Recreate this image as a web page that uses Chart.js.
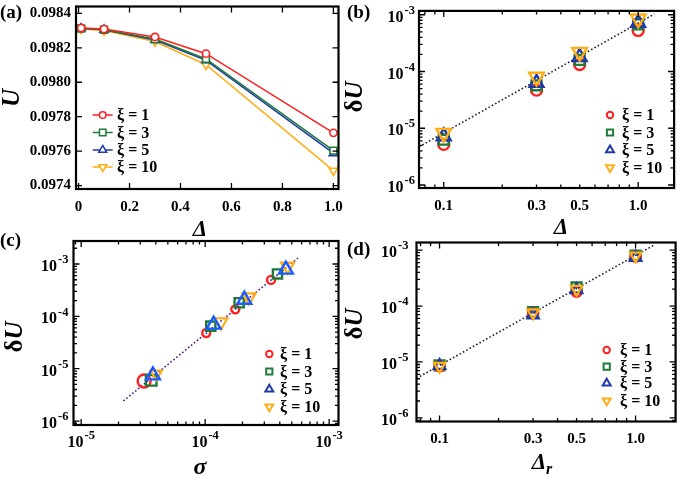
<!DOCTYPE html>
<html lang="en">
  <head>
    <meta charset="UTF-8" />
    <title>U vs Delta</title>
    <script src="https://cdn.jsdelivr.net/npm/chart.js@4.4.1/dist/chart.umd.min.js"></script>
    <style>
      body { margin: 0; background: #fff; }
      #wrap { position: relative; width: 685px; height: 477px; background: #fff; }
      #wrap canvas { position: absolute; left: 0; top: 0; }
    </style>
  </head>
  <body>
    <div id="wrap">
      <canvas id="chart-a" width="685" height="477"></canvas>
      <canvas id="chart-b" width="685" height="477"></canvas>
      <canvas id="chart-c" width="685" height="477"></canvas>
      <canvas id="chart-d" width="685" height="477"></canvas>
    </div>

    <script>
      // ---- data ----
      const xiLabels = ['ξ = 1', 'ξ = 3', 'ξ = 5', 'ξ = 10'];

      // (a) U vs Δ
      const deltaA = [0.01, 0.1, 0.3, 0.5, 1.0];
      const uXi1 = [0.098315, 0.098309, 0.098263, 0.098166, 0.097706];
      const uXi3 = [0.098312, 0.098305, 0.098251, 0.098135, 0.097603];
      const uXi5 = [0.098313, 0.098305, 0.098245, 0.098127, 0.097588];
      const uXi10 = [0.098310, 0.098300, 0.098237, 0.098102, 0.097487];
      const aXTicks = [0, 0.2, 0.4, 0.6, 0.8, 1.0];
      const aXTickLabels = ['0', '0.2', '0.4', '0.6', '0.8', '1.0'];
      const aYTicks = [0.0974, 0.0976, 0.0978, 0.0980, 0.0982, 0.0984];
      const aYTickLabels = ['0.0974', '0.0976', '0.0978', '0.0980', '0.0982', '0.0984'];

      // (b) δU vs Δ
      const deltaB = [0.1, 0.3, 0.5, 1.0];
      const dUbXi1 = [5.2e-6, 4.7e-5, 1.33e-4, 5.3e-4];
      const dUbXi3 = [6.3e-6, 5.7e-5, 1.6e-4, 6.8e-4];
      const dUbXi5 = [7.2e-6, 6.3e-5, 1.8e-4, 7.2e-4];
      const dUbXi10 = [8.2e-6, 8.0e-5, 2.2e-4, 8.5e-4];
      const fitBX = [0.0746, 1.21];
      const fitBY = [4.7e-6, 1.03e-3];

      // (c) δU vs σ
      const sigmaXi1 = [3.22e-5, 1.02e-4, 1.75e-4, 3.4e-4];
      const sigmaXi3 = [3.67e-5, 1.11e-4, 1.88e-4, 3.83e-4];
      const sigmaXi5 = [3.79e-5, 1.17e-4, 2.07e-4, 4.48e-4];
      const sigmaXi10 = [4.03e-5, 1.34e-4, 2.26e-4, 4.62e-4];
      const dUcXi1 = [5.8e-6, 4.8e-5, 1.36e-4, 4.97e-4];
      const dUcXi3 = [6.0e-6, 6.5e-5, 1.82e-4, 6.46e-4];
      const dUcXi5 = [7.46e-6, 6.95e-5, 2.08e-4, 7.8e-4];
      const dUcXi10 = [8.0e-6, 7.8e-5, 2.33e-4, 9.0e-4];
      const fitCX = [2.19e-5, 5.6e-4];
      const fitCY = [2.42e-6, 1.3e-3];

      // (d) δU vs Δr
      const deltaR = [0.1, 0.3, 0.5, 1.0];
      const dUdXi1 = [8.3e-6, 7.4e-5, 1.8e-4, 7.6e-4];
      const dUdXi3 = [8.7e-6, 7.8e-5, 2.15e-4, 8.0e-4];
      const dUdXi5 = [8.6e-6, 6.9e-5, 1.95e-4, 7.4e-4];
      const dUdXi10 = [8.4e-6, 7.6e-5, 2.0e-4, 7.9e-4];
      const fitDX = [0.0763, 1.257];
      const fitDY = [5.1e-6, 1.26e-3];

      const logXTicks = [0.1, 0.3, 0.5, 1.0];
      const logXTickLabels = ['0.1', '0.3', '0.5', '1.0'];
      const logYExps = [-6, -5, -4, -3];
      const cXExps = [-5, -4, -3];

      // ---- drawing helpers ----
      const W = 685, H = 477;
      const SERIF = '"Liberation Serif", "Times New Roman", serif';
      const RED = '#ff1f1f', GREEN = '#1e7b3a', BLUE = '#1f3aa8', ORANGE = '#ffad14';

      const pts = (xs, ys) => xs.map((x, i) => ({ x, y: ys[i] }));

      // marker styles for the 4 series
      const styles = [
        { color: RED, pointStyle: 'circle', rotation: 0 },
        { color: GREEN, pointStyle: 'rect', rotation: 0 },
        { color: BLUE, pointStyle: 'triangle', rotation: 0 },
        { color: ORANGE, pointStyle: 'triangle', rotation: 180 },
      ];

      function drawMarker(ctx, st, r, x, y, lw, fill) {
        ctx.save();
        ctx.beginPath();
        if (st.pointStyle === 'circle') {
          ctx.arc(x, y, r, 0, Math.PI * 2);
        } else if (st.pointStyle === 'rect') {
          const s = r * Math.SQRT1_2;
          ctx.rect(x - s, y - s, 2 * s, 2 * s);
        } else {
          let rad = st.rotation * Math.PI / 180;
          for (let k = 0; k < 3; k++) {
            const px = x + Math.sin(rad) * r, py = y - Math.cos(rad) * r;
            k === 0 ? ctx.moveTo(px, py) : ctx.lineTo(px, py);
            rad += Math.PI * 2 / 3;
          }
          ctx.closePath();
        }
        ctx.fillStyle = fill;
        ctx.fill();
        ctx.lineWidth = lw;
        ctx.strokeStyle = st.color;
        ctx.stroke();
        ctx.restore();
      }

      function logTicks(min, max) {
        const major = [], minor = [];
        for (let e = Math.floor(Math.log10(min)); e <= Math.ceil(Math.log10(max)); e++) {
          for (let k = 1; k < 10; k++) {
            const v = k * Math.pow(10, e);
            if (v < min || v > max) continue;
            (k === 1 ? major : minor).push(v);
          }
        }
        return { major, minor };
      }

      function drawPow(ctx, e, x, y, align) {
        const base = 'bold 16px ' + SERIF, sup = 'bold 12.5px ' + SERIF;
        ctx.font = base;
        const wb = ctx.measureText('10').width;
        ctx.font = sup;
        const ws = ctx.measureText(String(e)).width;
        const x0 = align === 'right' ? x - wb - ws - 1 : x - (wb + ws + 1) / 2;
        ctx.textAlign = 'left';
        ctx.textBaseline = 'middle';
        ctx.font = base;
        ctx.fillText('10', x0, y);
        ctx.font = sup;
        ctx.fillText(String(e), x0 + wb + 1, y - 7);
      }

      // rich text: parts [{t, font, dy}], centred on (x, y), optionally rotated
      function drawRich(ctx, parts, x, y, rot) {
        ctx.save();
        ctx.translate(x, y);
        if (rot) ctx.rotate(rot);
        ctx.textAlign = 'left';
        ctx.textBaseline = 'middle';
        let total = 0;
        parts.forEach(p => { ctx.font = p.font; p.w = ctx.measureText(p.t).width; total += p.w; });
        let cx = -total / 2;
        parts.forEach(p => { ctx.font = p.font; ctx.fillText(p.t, cx, p.dy || 0); cx += p.w; });
        ctx.restore();
      }

      function drawFrame(chart, p) {
        const { ctx, chartArea: a, scales: { x, y } } = chart;
        ctx.save();
        ctx.fillStyle = '#000';
        ctx.strokeStyle = '#000';

        // inward ticks on all four sides
        const xT = p.xLog ? logTicks(x.min, x.max) : { major: p.xMajor, minor: [] };
        const yT = p.yLog ? logTicks(y.min, y.max) : { major: p.yMajor, minor: [] };
        ctx.lineWidth = 1.3;
        ctx.beginPath();
        [[xT.major, 6], [xT.minor, 3.5]].forEach(([vals, len]) => vals.forEach(v => {
          const px = x.getPixelForValue(v);
          ctx.moveTo(px, a.bottom); ctx.lineTo(px, a.bottom - len);
          ctx.moveTo(px, a.top); ctx.lineTo(px, a.top + len);
        }));
        [[yT.major, 6], [yT.minor, 3.5]].forEach(([vals, len]) => vals.forEach(v => {
          const py = y.getPixelForValue(v);
          ctx.moveTo(a.left, py); ctx.lineTo(a.left + len, py);
          ctx.moveTo(a.right, py); ctx.lineTo(a.right - len, py);
        }));
        ctx.stroke();

        // frame
        ctx.lineWidth = 2.2;
        ctx.strokeRect(a.left, a.top, a.right - a.left, a.bottom - a.top);

        // tick labels
        ctx.font = 'bold 15px ' + SERIF;
        if (p.xLabels) {
          ctx.textAlign = 'center'; ctx.textBaseline = 'middle';
          p.xLabels.forEach((t, i) => ctx.fillText(t, x.getPixelForValue(p.xLabelVals[i]), a.bottom + p.xLabelGap));
        } else {
          p.xExps.forEach(e => drawPow(ctx, e, x.getPixelForValue(Math.pow(10, e)), a.bottom + p.xLabelGap, 'center'));
        }
        ctx.font = 'bold 15px ' + SERIF;
        if (p.yLabels) {
          ctx.textAlign = 'right'; ctx.textBaseline = 'middle';
          p.yLabels.forEach((t, i) => ctx.fillText(t, a.left - p.yLabelGap, y.getPixelForValue(p.yLabelVals[i])));
        } else {
          p.yExps.forEach(e => drawPow(ctx, e, a.left - p.yLabelGap, y.getPixelForValue(Math.pow(10, e)) + 3, 'right'));
        }

        // axis titles and panel label
        drawRich(ctx, p.xTitle, p.xTitlePos[0], p.xTitlePos[1], 0);
        drawRich(ctx, p.yTitle, p.yTitlePos[0], p.yTitlePos[1], -Math.PI / 2);
        ctx.font = 'bold 19px ' + SERIF;
        ctx.textAlign = 'left'; ctx.textBaseline = 'middle';
        ctx.fillText(p.tag, p.tagPos[0], p.tagPos[1]);

        // legend
        const L = p.legend;
        xiLabels.forEach((t, i) => {
          const ly = L.y[i];
          if (L.line) {
            ctx.strokeStyle = styles[i].color; ctx.lineWidth = 1.5;
            ctx.beginPath(); ctx.moveTo(L.x - 10, ly); ctx.lineTo(L.x + 10, ly); ctx.stroke();
          }
          drawMarker(ctx, styles[i], L.r[i], L.x, ly, L.lw, '#fff');
          ctx.fillStyle = '#000';
          ctx.font = 'bold 16px ' + SERIF;
          ctx.textAlign = 'left'; ctx.textBaseline = 'middle';
          ctx.fillText(t, L.tx, ly + 1);
        });
        ctx.restore();
      }

      function series(i, data, r, lw, order, extra) {
        return Object.assign({
          data,
          borderColor: styles[i].color,
          pointStyle: styles[i].pointStyle,
          pointRotation: styles[i].rotation,
          pointRadius: r,
          pointBorderWidth: lw,
          pointBorderColor: styles[i].color,
          pointBackgroundColor: 'rgba(255,255,255,0)',
          showLine: false,
          order,
        }, extra || {});
      }

      function fitLine(data, color) {
        return {
          data, showLine: true, borderColor: color, borderWidth: 1.6,
          borderDash: [1.6, 2.2], pointRadius: 0, order: 10,
        };
      }

      function makeChart(id, p, datasets, xr, yr) {
        new Chart(document.getElementById(id), {
          type: 'scatter',
          data: { datasets },
          options: {
            responsive: false,
            animation: false,
            devicePixelRatio: 1,
            layout: { padding: { left: p.area[0], top: p.area[1], right: W - p.area[2], bottom: H - p.area[3] } },
            plugins: { legend: { display: false }, tooltip: { enabled: false } },
            scales: {
              x: {
                type: p.xLog ? 'logarithmic' : 'linear', min: xr[0], max: xr[1],
                ticks: { display: false }, grid: { display: false }, border: { display: false },
                afterFit: s => { s.height = 0; },
              },
              y: {
                type: p.yLog ? 'logarithmic' : 'linear', min: yr[0], max: yr[1],
                ticks: { display: false }, grid: { display: false }, border: { display: false },
                afterFit: s => { s.width = 0; },
              },
            },
          },
          plugins: [{ id: 'frame-' + id, afterDraw: chart => drawFrame(chart, p) }],
        });
      }

      const boldIt = sz => 'italic bold ' + sz + 'px ' + SERIF;
      const bold = sz => 'bold ' + sz + 'px ' + SERIF;
      const deltaU = [{ t: 'δ', font: bold(25) }, { t: 'U', font: boldIt(25) }];

      // (a)
      const lineOpts = i => ({ showLine: true, borderWidth: 1.5, pointBackgroundColor: '#fff' });
      makeChart('chart-a', {
        area: [76, 6.5, 338.5, 189],
        xMajor: aXTicks, yMajor: aYTicks,
        xLabels: aXTickLabels, xLabelVals: aXTicks, xLabelGap: 18,
        yLabels: aYTickLabels, yLabelVals: aYTicks, yLabelGap: 5,
        xTitle: [{ t: 'Δ', font: boldIt(23) }], xTitlePos: [200, 230],
        yTitle: [{ t: 'U', font: boldIt(25) }], yTitlePos: [13, 98],
        tag: '(a)', tagPos: [0, 13],
        legend: { x: 102.7, y: [115, 132.5, 150, 167], tx: 117, r: [3.3, 4.6, 4.6, 4.6], lw: 1.5, line: true },
      }, [
        series(0, pts(deltaA, uXi1), 3.6, 1.6, 0, lineOpts(0)),
        series(1, pts(deltaA, uXi3), 4.8, 1.6, 1, lineOpts(1)),
        series(2, pts(deltaA, uXi5), 4.8, 1.6, 2, lineOpts(2)),
        series(3, pts(deltaA, uXi10), 4.8, 1.6, 3, lineOpts(3)),
      ], [-0.01, 1.02], [0.09738, 0.09844]);

      // (b)
      makeChart('chart-b', {
        area: [419, 6, 680, 188], xLog: true, yLog: true,
        xLabels: logXTickLabels, xLabelVals: logXTicks, xLabelGap: 18.5,
        yExps: logYExps, yLabelGap: 4,
        xTitle: [{ t: 'Δ', font: boldIt(23) }], xTitlePos: [561, 228],
        yTitle: deltaU, yTitlePos: [356, 97],
        tag: '(b)', tagPos: [347, 13],
        legend: { x: 610, y: [115, 132.5, 150, 167.5], tx: 622, r: [3.2, 4.4, 4.6, 4.6], lw: 2, line: false },
      }, [
        series(0, pts(deltaB, dUbXi1), 5.5, 2.4, 3),
        series(1, pts(deltaB, dUbXi3), 7, 2.4, 2),
        series(2, pts(deltaB, dUbXi5), 8, 2.4, 1),
        series(3, pts(deltaB, dUbXi10), 8.5, 2.4, 0),
        fitLine(pts(fitBX, fitBY), '#222'),
      ], [0.0746, 1.53], [8.85e-7, 1.17e-3]);

      // (c)
      const bigFirst = (big, small) => c => (c.dataIndex === 0 ? big : small);
      makeChart('chart-c', {
        area: [73.5, 241, 338.5, 425], xLog: true, yLog: true,
        xExps: cXExps, xLabelGap: 17.5,
        yExps: logYExps, yLabelGap: 5,
        xTitle: [{ t: 'σ', font: boldIt(24) }], xTitlePos: [200, 468],
        yTitle: deltaU, yTitlePos: [16, 337],
        tag: '(c)', tagPos: [0, 241],
        legend: { x: 269.3, y: [354, 371.5, 389.3, 406.7], tx: 280, r: [3.2, 4.4, 4.6, 4.6], lw: 2, line: false },
      }, [
        series(0, pts(sigmaXi1, dUcXi1), bigFirst(6.5, 4), 2.4, 3),
        series(1, pts(sigmaXi3, dUcXi3), bigFirst(7.5, 6.5), 2.4, 2, { borderColor: '#1f7a3a', pointBorderColor: '#1f7a3a' }),
        series(2, pts(sigmaXi5, dUcXi5), 8, 2.4, 0, { pointBorderColor: '#1a5cff' }),
        series(3, pts(sigmaXi10, dUcXi10), bigFirst(6.5, 7.5), 2.2, 1),
        fitLine(pts(fitCX, fitCY), '#4b1a8c'),
      ], [8.67e-6, 1.19e-3], [8.4e-7, 2.75e-3]);

      // (d)
      makeChart('chart-d', {
        area: [416.5, 242.5, 678.5, 421.5], xLog: true, yLog: true,
        xLabels: logXTickLabels, xLabelVals: logXTicks, xLabelGap: 17.5,
        yExps: logYExps, yLabelGap: 8,
        xTitle: [{ t: 'Δ', font: boldIt(23) }, { t: 'r', font: boldIt(16), dy: 7 }], xTitlePos: [542, 463],
        yTitle: deltaU, yTitlePos: [356, 324],
        tag: '(d)', tagPos: [347, 250],
        legend: { x: 606.7, y: [350, 366.7, 383.3, 400.7], tx: 620, r: [3.2, 4.4, 4.6, 4.6], lw: 2, line: false },
      }, [
        series(0, pts(deltaR, dUdXi1), 5, 2.4, 2),
        series(1, pts(deltaR, dUdXi3), 7, 2.4, 3),
        series(2, pts(deltaR, dUdXi5), 6.5, 2.4, 1),
        series(3, pts(deltaR, dUdXi10), 6.5, 2.2, 0),
        fitLine(pts(fitDX, fitDY), '#222'),
      ], [0.0763, 1.6], [8.6e-7, 1.37e-3]);
    </script>
  </body>
</html>
